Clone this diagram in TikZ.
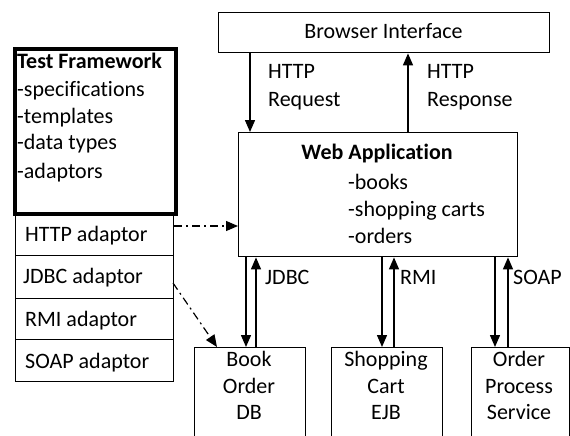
\documentclass[tikz,border=0pt]{standalone}
\usepackage{fontspec}
\setmainfont{Carlito}[Ligatures={NoCommon}]
\usetikzlibrary{arrows.meta}
\begin{document}
\begin{tikzpicture}[x=1pt,y=-1pt,
  box/.style={draw, line width=1.4pt, inner sep=0pt, anchor=north west},
  txt/.style={inner sep=0pt, anchor=base, yshift=-6pt, font=\fontsize{22}{26}\selectfont},
  ltxt/.style={txt, anchor=base west},
  arr/.style={line width=1.4pt, -{Triangle[width=10pt,length=12pt]}},
  dasharr/.style={line width=1.2pt, dash pattern=on 8pt off 4pt on 2pt off 4pt, -{Triangle[width=10pt,length=12pt]}}]
\useasboundingbox (0,0) rectangle (570,436);
\clip (0,0) rectangle (570,436);

% main boxes
\node[box, minimum width=331pt, minimum height=40pt] (browser) at (218,12) {};
\node[txt] (browsertxt) at (383.5,32) {Browser Interface};

\node[box, minimum width=279pt, minimum height=124pt] (webapp) at (238,132) {};
\node[txt, font=\fontsize{22}{26}\selectfont\bfseries] (webtitle) at (377,153) {Web Application};
\node[ltxt] (wa1) at (348,183) {-books};
\node[ltxt] (wa2) at (348,210) {-shopping carts};
\node[ltxt] (wa3) at (348,237) {-orders};

% test framework block
\node[box, line width=4pt, minimum width=161pt, minimum height=165pt] (tf) at (13,47) {};
\node[ltxt, font=\fontsize{22}{26}\selectfont\bfseries] (tft) at (17,62) {Test Framework};
\node[ltxt] (tf1) at (17,90) {-specifications};
\node[ltxt] (tf2) at (17,117) {-templates};
\node[ltxt] (tf3) at (17,143) {-data types};
\node[ltxt] (tf4) at (17,172) {-adaptors};

% adaptors
\node[box, minimum width=158pt, minimum height=42pt] (ahttp) at (15,213) {};
\node[box, minimum width=158pt, minimum height=43pt] (ajdbc) at (15,255) {};
\node[box, minimum width=158pt, minimum height=41pt] (armi) at (15,298) {};
\node[box, minimum width=158pt, minimum height=42pt] (asoap) at (15,339) {};
\node[ltxt] at (25,235) {HTTP adaptor};
\node[ltxt] at (23,277) {JDBC adaptor};
\node[ltxt] at (25,320) {RMI adaptor};
\node[ltxt] at (25,362) {SOAP adaptor};

% back-end boxes
\node[box, minimum width=111pt, minimum height=110pt] (book) at (194,347) {};
\node[box, minimum width=111pt, minimum height=110pt] (cart) at (331,347) {};
\node[box, minimum width=98pt, minimum height=110pt] (order) at (471,347) {};
\node[txt] at (249,360) {Book};
\node[txt] at (249,387) {Order};
\node[txt] at (249,413) {DB};
\node[txt] at (386,360) {Shopping};
\node[txt] at (386,387) {Cart};
\node[txt] at (386,413) {EJB};
\node[txt] at (519,360) {Order};
\node[txt] at (519,387) {Process};
\node[txt] at (519,413) {Service};

% connector x positions
\coordinate (xreq) at (250,0);
\coordinate (xresp) at (408,0);
\coordinate (xj1) at (246,0);
\coordinate (xj2) at (256,0);
\coordinate (xr1) at (382,0);
\coordinate (xr2) at (394,0);
\coordinate (xs1) at (495,0);
\coordinate (xs2) at (508,0);
\coordinate (yhttp) at (0,226);
\coordinate (jdbcstart) at (173,283);
\coordinate (jdbcend) at (217,347);

% HTTP traffic
\draw[arr] (browser.south -| xreq) -- (webapp.north -| xreq);
\draw[arr] (webapp.north -| xresp) -- (browser.south -| xresp);
\node[ltxt] at (268,72) {HTTP};
\node[ltxt] at (268,100) {Request};
\node[ltxt] at (427,72) {HTTP};
\node[ltxt] at (427,100) {Response};

% back-end traffic
\draw[arr] (webapp.south -| xj1) -- (book.north -| xj1);
\draw[arr] (book.north -| xj2) -- (webapp.south -| xj2);
\draw[arr] (webapp.south -| xr1) -- (cart.north -| xr1);
\draw[arr] (cart.north -| xr2) -- (webapp.south -| xr2);
\draw[arr] (webapp.south -| xs1) -- (order.north -| xs1);
\draw[arr] (order.north -| xs2) -- (webapp.south -| xs2);
\node[ltxt] at (265,278) {JDBC};
\node[ltxt] at (400,278) {RMI};
\node[ltxt] at (513,278) {SOAP};

% adaptor links
\draw[dasharr] (ahttp.east |- yhttp) -- (webapp.west |- yhttp);
\draw[dasharr] (jdbcstart) -- (jdbcend);
\end{tikzpicture}
\end{document}
